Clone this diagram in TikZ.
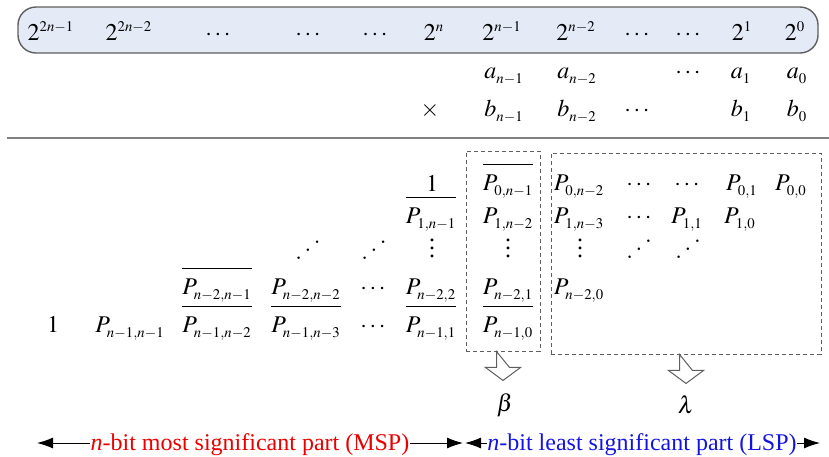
\documentclass[tikz,border=0pt]{standalone}
\usepackage{mathptmx}
\usepackage[no-math]{fontspec}
\setmainfont{Liberation Serif}
\usetikzlibrary{arrows.meta,calc}
\DeclareMathSizes{12}{12}{7.4}{5.5}
\everymath{\fontdimen16\textfont2=2.6pt\fontdimen17\textfont2=2.6pt\fontdimen13\textfont2=5.5pt}
\definecolor{boxfill}{RGB}{228,235,246}
\definecolor{boxline}{RGB}{95,95,95}
\definecolor{mspred}{RGB}{235,0,0}
\definecolor{lspblue}{RGB}{20,20,225}
\newcommand{\rdots}{\mathinner{\mkern1mu\raisebox{0pt}{$.$}\mkern2mu\raisebox{4pt}{$.$}\mkern2mu\raisebox{8pt}{$.$}\mkern1mu}}
\newcommand{\myvdots}{\vbox{\baselineskip4pt\lineskiplimit0pt\hbox{.}\hbox{.}\hbox{.}}}
\newcommand{\ovl}[1]{\overline{\rule{0pt}{11pt}#1}}
\tikzset{
  lbl/.style={inner sep=0pt, anchor=base},
  mid/.style={inner sep=0pt, anchor=center},
  topbox/.style={draw=boxline, fill=boxfill, line width=0.7pt, rounded corners=9pt, inner sep=0pt},
  dbox/.style={draw=boxline, dashed, dash pattern=on 2pt off 1.5pt, line width=0.45pt, inner sep=0pt},
  barrow/.style={draw=boxline, fill=white, line width=0.5pt},
  divider/.style={draw=gray, line width=0.9pt},
  partarrow/.style={-{Latex[length=8pt,width=5.5pt]}, line width=0.5pt},
}
\begin{document}
\begin{tikzpicture}[x=0.5pt, y=-0.5pt, font=\fontsize{12}{14}\selectfont]
\useasboundingbox (0,0) rectangle (829,456);
% top weight row
\node[topbox, minimum width=400pt, minimum height=23pt] (weights) at (418,30) {};
\node[lbl] (w1) at (51,40) {$2^{2n-1}$};
\node[lbl] (w2) at (129,40) {$2^{2n-2}$};
\node[lbl] (w3) at (218,40) {$\cdots$};
\node[lbl] (w4) at (308,40) {$\cdots$};
\node[lbl] (w5) at (375,40) {$\cdots$};
\node[lbl] (w6) at (434,40) {$2^{n}$};
\node[lbl] (w7) at (502,40) {$2^{n-1}$};
\node[lbl] (w8) at (576,40) {$2^{n-2}$};
\node[lbl] (w9) at (637,40) {$\cdots$};
\node[lbl] (w10) at (688,40) {$\cdots$};
\node[lbl] (w11) at (742,40) {$2^{1}$};
\node[lbl] (w12) at (795,40) {$2^{0}$};
% operands
\node[lbl] (a1) at (504,78) {$a_{n-1}$};
\node[lbl] (a2) at (577,78) {$a_{n-2}$};
\node[lbl] (a3) at (688,78) {$\cdots$};
\node[lbl] (a4) at (741,78) {$a_{1}$};
\node[lbl] (a5) at (797,78) {$a_{0}$};
\node[lbl] (times) at (430,116) {$\times$};
\node[lbl] (b1) at (504,116) {$b_{n-1}$};
\node[lbl] (b2) at (577,116) {$b_{n-2}$};
\node[lbl] (b3) at (637,116) {$\cdots$};
\node[lbl] (b4) at (741,116) {$b_{1}$};
\node[lbl] (b5) at (797,116) {$b_{0}$};
% divider
\coordinate (dl) at (7,138);
\coordinate (dr) at (829,138);
\draw[divider] (dl) -- (dr);
% dashed boxes
\node[dbox, minimum width=37pt, minimum height=100pt] (box1) at (503,251) {};
\node[dbox, minimum width=135pt, minimum height=100.5pt] (box2) at (686,253.5) {};
% row 1
\node[lbl] (r1a) at (432,191) {$1$};
\node[lbl] (r1b) at (508,190) {$\ovl{P_{0,n-1}}$};
\node[lbl] (r1c) at (579,190) {$P_{0,n-2}$};
\node[lbl] (r1d) at (639,190) {$\cdots$};
\node[lbl] (r1e) at (687,190) {$\cdots$};
\node[lbl] (r1f) at (742,190) {$P_{0,1}$};
\node[lbl] (r1g) at (791,190) {$P_{0,0}$};
% row 2
\node[lbl] (r2a) at (431,223) {$\ovl{P_{1,n-1}}$};
\node[lbl] (r2b) at (508,223) {$P_{1,n-2}$};
\node[lbl] (r2c) at (579,223) {$P_{1,n-3}$};
\node[lbl] (r2d) at (639,223) {$\cdots$};
\node[lbl] (r2e) at (687,223) {$P_{1,1}$};
\node[lbl] (r2f) at (740,223) {$P_{1,0}$};
% row 3
\node[mid] (r3a) at (308,250) {$\rdots$};
\node[mid] (r3b) at (374,250) {$\rdots$};
\node[mid] (r3c) at (432,248) {\myvdots};
\node[mid] (r3d) at (508,248) {\myvdots};
\node[mid] (r3e) at (580,248) {\myvdots};
\node[mid] (r3f) at (639,249) {$\rdots$};
\node[mid] (r3g) at (688,249) {$\rdots$};
% row 4
\node[lbl] (r4a) at (217,294) {$\ovl{P_{n-2,n-1}}$};
\node[lbl] (r4b) at (306,294) {$P_{n-2,n-2}$};
\node[lbl] (r4c) at (373,294) {$\cdots$};
\node[lbl] (r4d) at (431,294) {$P_{n-2,2}$};
\node[lbl] (r4e) at (508,294) {$P_{n-2,1}$};
\node[lbl] (r4f) at (579,294) {$P_{n-2,0}$};
% row 5
\node[lbl] (r5a) at (53,332) {$1$};
\node[lbl] (r5b) at (130,332) {$P_{n-1,n-1}$};
\node[lbl] (r5c) at (217,332) {$\ovl{P_{n-1,n-2}}$};
\node[lbl] (r5d) at (306,332) {$\ovl{P_{n-1,n-3}}$};
\node[lbl] (r5e) at (373,332) {$\cdots$};
\node[lbl] (r5f) at (431,332) {$\ovl{P_{n-1,1}}$};
\node[lbl] (r5g) at (508,332) {$\ovl{P_{n-1,0}}$};
% block arrows
\foreach \bx in {box1,box2}{
  \draw[barrow] ($(\bx.south)+(-6.5,0)$) -- ++(0,16) -- ++(-11,0)
     -- ($(\bx.south)+(0,29)$) -- ($(\bx.south)+(17.5,16)$) -- ++(-11,0) -- cycle;
}
\node[mid] (beta) at (505,405) {$\beta$};
\node[mid] (lambda) at (686,405) {$\lambda$};
% bottom part labels
\node[lbl, text=mspred] (msp) at (250,450) {\textit{n}-bit most significant part (MSP)};
\node[lbl, text=lspblue] (lsp) at (642,450) {\textit{n}-bit least significant part (LSP)};
\coordinate (mL) at (37,443);
\coordinate (mR) at (463,443);
\coordinate (lL) at (465,443);
\coordinate (lR) at (820,443);
\draw[partarrow] (msp.west |- mL) -- (mL);
\draw[partarrow] (msp.east |- mR) -- (mR);
\draw[partarrow] (lsp.west |- lL) -- (lL);
\draw[partarrow] (lsp.east |- lR) -- (lR);
\end{tikzpicture}
\end{document}
